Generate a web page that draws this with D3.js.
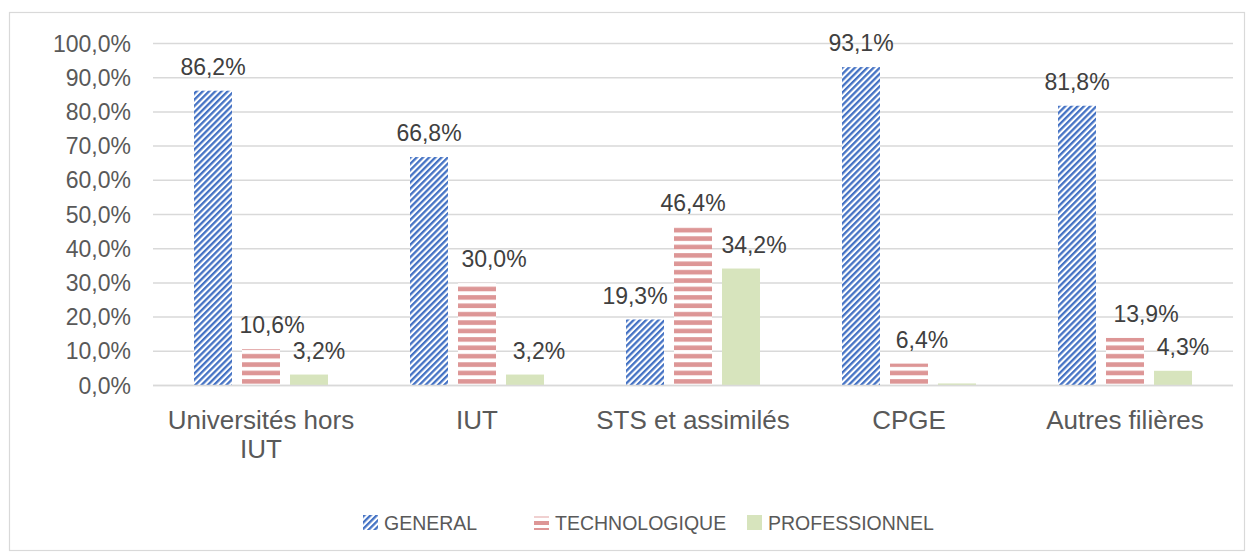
<!DOCTYPE html>
<html lang="fr">
<head>
<meta charset="utf-8">
<script src="https://cdn.jsdelivr.net/npm/d3@7"></script>
<style>
    html, body { margin: 0; padding: 0; background: #fff; }
    body { font-family: "Liberation Sans", Arial, sans-serif; }
</style>
</head>
<body>
<div id="chart"></div>
<script>
// données (en %)
const categories = ["Universités hors IUT", "IUT", "STS et assimilés", "CPGE", "Autres filières"];
const seriesNames = ["GENERAL", "TECHNOLOGIQUE", "PROFESSIONNEL"];
const generalValues = [86.2, 66.8, 19.3, 93.1, 81.8];
const technoValues = [10.6, 30.0, 46.4, 6.4, 13.9];
const proValues = [3.2, 3.2, 34.2, 0.6, 4.3];
const yTicks = [0, 10, 20, 30, 40, 50, 60, 70, 80, 90, 100];

// petits décalages des étiquettes, comme dans le graphique d'origine
const labelShift = [
    [0, 0, -10, 0, 0],
    [11, 17, 0, 13, 21],
    [10, 14, 13, 0, 10]
];

const width = 1255, height = 560;
const allValues = [generalValues, technoValues, proValues];

const fr = d3.formatLocale({ decimal: ",", thousands: " ", grouping: [3], currency: ["", " €"] });
const fmt = v => fr.format(".1f")(v) + "%";

const svg = d3.select("#chart").append("svg")
    .attr("width", width)
    .attr("height", height);

const defs = svg.append("defs");

// motif diagonal bleu
const diag = defs.append("pattern")
    .attr("id", "diagBlue")
    .attr("patternUnits", "userSpaceOnUse")
    .attr("width", 4.4)
    .attr("height", 4.4)
    .attr("patternTransform", "rotate(45)");
diag.append("rect").attr("width", 4.4).attr("height", 4.4).attr("fill", "#fff");
diag.append("rect").attr("width", 2.3).attr("height", 4.4).attr("fill", "#4472C4");

// motif horizontal rouge
const hor = defs.append("pattern")
    .attr("id", "horRed")
    .attr("patternUnits", "userSpaceOnUse")
    .attr("width", 10)
    .attr("height", 8.4)
    .attr("y", 385.5);
hor.append("rect").attr("width", 10).attr("height", 8.4).attr("fill", "#fff");
hor.append("rect").attr("y", 2).attr("width", 10).attr("height", 4.6).attr("fill", "#DD9696");

const fills = ["url(#diagBlue)", "url(#horRed)", "#D7E4BD"];

// cadre
svg.append("rect")
    .attr("x", 9.5).attr("y", 12.5)
    .attr("width", 1235).attr("height", 538)
    .attr("fill", "none")
    .attr("stroke", "#d9d9d9")
    .attr("stroke-width", 1.2);

const x0 = d3.scaleBand().domain(categories).range([153, 1233]);
const x1 = d3.scaleBand().domain(seriesNames).range([-72, 72])
    .paddingInner(10 / 48).paddingOuter(5 / 48);
const y = d3.scaleLinear().domain([0, 100]).range([385.5, 43.5]);

// grille
svg.append("g")
    .selectAll("line")
    .data(yTicks)
    .enter()
    .append("line")
    .attr("x1", 153).attr("x2", 1233)
    .attr("y1", d => y(d)).attr("y2", d => y(d))
    .attr("stroke", "#d9d9d9")
    .attr("stroke-width", 1.5);

// étiquettes de l'axe Y
svg.append("g")
    .selectAll("text")
    .data(yTicks)
    .enter()
    .append("text")
    .attr("x", 131)
    .attr("y", d => y(d))
    .attr("dy", "0.35em")
    .attr("text-anchor", "end")
    .attr("font-size", 23)
    .attr("fill", "#595959")
    .text(d => fmt(d));

// barres
seriesNames.forEach((name, s) => {
    const g = svg.append("g");
    g.selectAll("rect")
        .data(allValues[s])
        .enter()
        .append("rect")
        .attr("x", (d, i) => x0(categories[i]) + x0.bandwidth() / 2 + x1(name))
        .attr("y", d => y(d))
        .attr("width", x1.bandwidth())
        .attr("height", d => y(0) - y(d))
        .attr("fill", fills[s]);

    // pas d'étiquette pour la toute petite barre (absente de l'original)
    g.selectAll("text")
        .data(allValues[s])
        .enter()
        .append("text")
        .attr("x", (d, i) => x0(categories[i]) + x0.bandwidth() / 2 + x1(name) + x1.bandwidth() / 2 + labelShift[s][i])
        .attr("y", d => y(d) - 24)
        .attr("dy", "0.35em")
        .attr("text-anchor", "middle")
        .attr("font-size", 23)
        .attr("fill", "#404040")
        .text(d => d >= 1 ? fmt(d) : "");
});

// axe X
svg.append("line")
    .attr("x1", 153).attr("x2", 1233)
    .attr("y1", y(0)).attr("y2", y(0))
    .attr("stroke", "#d9d9d9")
    .attr("stroke-width", 1.5);

const catLines = {
    "Universités hors IUT": ["Universités hors", "IUT"]
};
categories.forEach(c => {
    const lines = catLines[c] || [c];
    const t = svg.append("text")
        .attr("x", x0(c) + x0.bandwidth() / 2)
        .attr("y", 429)
        .attr("text-anchor", "middle")
        .attr("font-size", 26)
        .attr("fill", "#595959");
    lines.forEach((l, k) => {
        t.append("tspan")
            .attr("x", x0(c) + x0.bandwidth() / 2)
            .attr("dy", k === 0 ? 0 : 29)
            .text(l);
    });
});

// légende
const legendX = [363, 534, 747];
const legend = svg.append("g");
seriesNames.forEach((name, s) => {
    const lg = legend.append("g").attr("transform", `translate(${legendX[s]}, 515)`);
    if (s === 1) {
        lg.append("rect").attr("width", 15).attr("height", 15).attr("fill", "#fff");
        lg.append("rect").attr("y", 1).attr("width", 15).attr("height", 2).attr("fill", "#f0d0d0");
        lg.append("rect").attr("y", 6).attr("width", 15).attr("height", 4).attr("fill", "#DD9696");
        lg.append("rect").attr("y", 13).attr("width", 15).attr("height", 2).attr("fill", "#DD9696");
    } else {
        lg.append("rect").attr("width", 15).attr("height", 15).attr("fill", fills[s]);
    }
    lg.append("text")
        .attr("x", 21)
        .attr("y", 8)
        .attr("dy", "0.35em")
        .attr("font-size", 19.5)
        .attr("fill", "#595959")
        .text(name);
});
</script>
</body>
</html>
